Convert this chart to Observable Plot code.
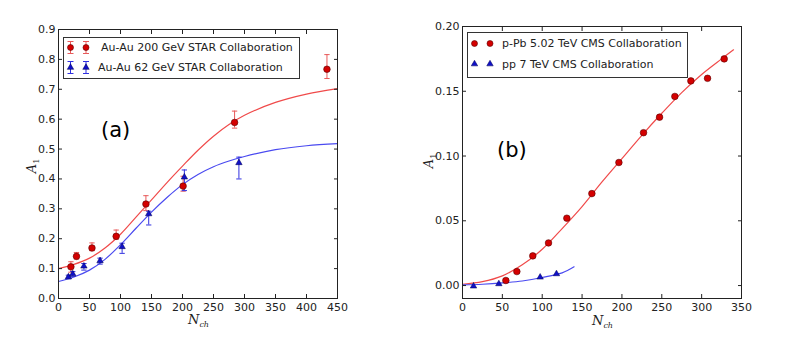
<!DOCTYPE html>
<html>
<head>
<meta charset="utf-8">
<script src="https://cdn.jsdelivr.net/npm/d3@7"></script>
<script src="https://cdn.jsdelivr.net/npm/@observablehq/plot@0.6"></script>
<style>
  html, body { margin: 0; padding: 0; background: #fff; }
  #wrap { position: relative; width: 789px; height: 346px; overflow: hidden; background: #fff; font-family: "DejaVu Sans", sans-serif; }
  .panel { position: absolute; top: 0; }
  .lbl { position: absolute; font-family: "DejaVu Serif", serif; font-style: italic; font-size: 13px; color: #222; white-space: nowrap; line-height: 13px; }
  .lbl sub { font-size: 8px; vertical-align: -3px; line-height: 8px; }
  .tag { position: absolute; font-family: "DejaVu Sans", sans-serif; font-size: 21px; color: #000; }
  .legend { position: absolute; }
</style>
</head>
<body>
<div id="wrap"></div>
<script>
// ---------- Panel (a): Au-Au STAR ----------
const xTicksA = [0, 50, 100, 150, 200, 250, 300, 350, 400, 450];
const yTicksA = [0.0, 0.1, 0.2, 0.3, 0.4, 0.5, 0.6, 0.7, 0.8, 0.9];

const nch200 = [20, 29, 54, 93, 141, 201, 284, 433];
const a1_200 = [0.106, 0.141, 0.169, 0.208, 0.316, 0.376, 0.589, 0.767];
const lo200  = [0.088, 0.132, 0.160, 0.198, 0.294, 0.359, 0.570, 0.736];
const hi200  = [0.123, 0.154, 0.186, 0.229, 0.344, 0.409, 0.627, 0.816];

const nch62 = [16, 23, 41, 67, 102.6, 145.5, 203, 291];
const a1_62 = [0.072, 0.082, 0.108, 0.126, 0.173, 0.283, 0.406, 0.454];
const lo62  = [0.066, 0.074, 0.095, 0.115, 0.151, 0.246, 0.361, 0.400];
const hi62  = [0.078, 0.090, 0.117, 0.135, 0.185, 0.292, 0.430, 0.473];

const fitXA    = [0, 25, 50, 75, 100, 125, 150, 175, 200, 225, 250, 275, 300, 350, 400, 450];
const fit200   = [0.100, 0.114, 0.135, 0.169, 0.215, 0.272, 0.330, 0.388, 0.443, 0.496, 0.543, 0.582, 0.613, 0.656, 0.684, 0.702];
const fit62    = [0.057, 0.072, 0.095, 0.131, 0.180, 0.235, 0.289, 0.338, 0.381, 0.415, 0.441, 0.460, 0.475, 0.498, 0.511, 0.518];

// ---------- Panel (b): CMS ----------
const xTicksB = [0, 50, 100, 150, 200, 250, 300, 350];
const yTicksB = [0.00, 0.05, 0.10, 0.15, 0.20];

const nchPPb = [54.4, 68.2, 88.2, 107.9, 130.9, 162.3, 196.2, 227.1, 247.2, 266.4, 286.5, 307.4, 328.3];
const a1PPb  = [0.0039, 0.0108, 0.0229, 0.0329, 0.052, 0.071, 0.095, 0.118, 0.130, 0.146, 0.158, 0.160, 0.175];

const nchPP = [13.8, 45.6, 97.4, 117.9];
const a1PP  = [-0.0005, 0.0013, 0.0064, 0.009];

const fitXPPb = [0, 25, 50, 75, 100, 125, 150, 175, 200, 225, 250, 275, 300, 325, 340];
const fitPPb  = [0.001, 0.003, 0.0075, 0.016, 0.028, 0.044, 0.061, 0.080, 0.098, 0.116, 0.133, 0.149, 0.163, 0.175, 0.182];
const fitXPP  = [0, 25, 50, 75, 100, 125, 140];
const fitPP   = [0.0005, 0.001, 0.002, 0.0035, 0.0062, 0.0098, 0.0145];

// ---------- colours ----------
const RED_DOT = "#d40000", RED_EDGE = "#5a0000", RED_LINE = "#f04a4a", RED_ERR = "#e85a5a";
const BLUE_DOT = "#1010c8", BLUE_LINE = "#4a4af0", BLUE_ERR = "#3030e0";

const capSymbol = { draw(ctx, size) { const r = Math.sqrt(size) / 2; ctx.moveTo(-r, 0); ctx.lineTo(r, 0); } };

const zip = (xs, ys, extra = {}) => xs.map((x, i) => {
  const o = { x, y: ys[i] };
  for (const k in extra) o[k] = extra[k][i];
  return o;
});

function axes(xTicks, yTicks, yFmt) {
  const common = { stroke: "#222", fontSize: 11, label: null };
  return [
    Plot.axisX(xTicks, { ...common, anchor: "bottom", tickSize: 0, tickPadding: 5, tickFormat: d => String(d), fill: "#222" }),
    Plot.axisX(xTicks, { ...common, anchor: "bottom", tickSize: -4, fill: "none" }),
    Plot.axisX(xTicks, { ...common, anchor: "top", tickSize: -4, fill: "none" }),
    Plot.axisY(yTicks, { ...common, anchor: "left", tickSize: 0, tickPadding: 3, tickFormat: yFmt, fill: "#222" }),
    Plot.axisY(yTicks, { ...common, anchor: "left", tickSize: -4, fill: "none" }),
    Plot.axisY(yTicks, { ...common, anchor: "right", tickSize: -4, fill: "none" }),
    Plot.frame({ stroke: "#222", strokeWidth: 1 })
  ];
}

const wrap = document.getElementById("wrap");

// Panel (a)
const d200 = zip(nch200, a1_200, { lo: lo200, hi: hi200 });
const d62  = zip(nch62, a1_62, { lo: lo62, hi: hi62 });
const plotA = Plot.plot({
  width: 395, height: 346,
  marginLeft: 58, marginRight: 58, marginTop: 29, marginBottom: 48,
  style: { fontFamily: "DejaVu Sans, sans-serif", background: "transparent", color: "#222" },
  x: { domain: [0, 450] },
  y: { domain: [0, 0.9] },
  marks: [
    Plot.line(zip(fitXA, fit200), { x: "x", y: "y", stroke: RED_LINE, strokeWidth: 1.2, curve: "catmull-rom" }),
    Plot.line(zip(fitXA, fit62), { x: "x", y: "y", stroke: BLUE_LINE, strokeWidth: 1.2, curve: "catmull-rom" }),
    Plot.ruleX(d200, { x: "x", y1: "lo", y2: "hi", stroke: RED_ERR, strokeWidth: 1 }),
    Plot.dot(d200, { x: "x", y: "lo", symbol: capSymbol, r: 3, stroke: RED_ERR, strokeWidth: 1 }),
    Plot.dot(d200, { x: "x", y: "hi", symbol: capSymbol, r: 3, stroke: RED_ERR, strokeWidth: 1 }),
    Plot.ruleX(d62, { x: "x", y1: "lo", y2: "hi", stroke: BLUE_ERR, strokeWidth: 1 }),
    Plot.dot(d62, { x: "x", y: "lo", symbol: capSymbol, r: 3, stroke: BLUE_ERR, strokeWidth: 1 }),
    Plot.dot(d62, { x: "x", y: "hi", symbol: capSymbol, r: 3, stroke: BLUE_ERR, strokeWidth: 1 }),
    Plot.dot(d200, { x: "x", y: "y", r: 3.3, fill: RED_DOT, stroke: RED_EDGE, strokeWidth: 0.6 }),
    Plot.dot(d62, { x: "x", y: "y", symbol: "triangle", r: 2.4, fill: BLUE_DOT, stroke: "#000050", strokeWidth: 0.5 }),
    ...axes(xTicksA, yTicksA, d3.format(".1f"))
  ]
});
plotA.classList.add("panel");
plotA.style.left = "0px";
wrap.appendChild(plotA);

// Panel (b)
const dPPb = zip(nchPPb, a1PPb);
const dPP  = zip(nchPP, a1PP);
const plotB = Plot.plot({
  width: 394, height: 346,
  marginLeft: 67, marginRight: 48, marginTop: 26, marginBottom: 48,
  style: { fontFamily: "DejaVu Sans, sans-serif", background: "transparent", color: "#222" },
  x: { domain: [0, 350] },
  y: { domain: [-0.01, 0.2] },
  marks: [
    Plot.line(zip(fitXPPb, fitPPb), { x: "x", y: "y", stroke: RED_LINE, strokeWidth: 1.2, curve: "catmull-rom" }),
    Plot.line(zip(fitXPP, fitPP), { x: "x", y: "y", stroke: BLUE_LINE, strokeWidth: 1.2, curve: "catmull-rom" }),
    Plot.dot(dPPb, { x: "x", y: "y", r: 3.3, fill: RED_DOT, stroke: RED_EDGE, strokeWidth: 0.6 }),
    Plot.dot(dPP, { x: "x", y: "y", symbol: "triangle", r: 2.4, fill: BLUE_DOT, stroke: "#000050", strokeWidth: 0.5 }),
    ...axes(xTicksB, yTicksB, d3.format(".2f"))
  ]
});
plotB.classList.add("panel");
plotB.style.left = "395px";
wrap.appendChild(plotB);

// ---------- HTML overlays: axis labels, panel tags, legends ----------
function addHTML(cls, html, css) {
  const el = document.createElement("div");
  el.className = cls;
  el.innerHTML = html;
  Object.assign(el.style, css);
  wrap.appendChild(el);
  return el;
}
addHTML("lbl", "N<sub>ch</sub>", { left: "188px", top: "313px" });
addHTML("lbl", "N<sub>ch</sub>", { left: "592px", top: "314px" });
addHTML("lbl", "A<sub style='font-style:normal'>1</sub>", { left: "26px", top: "158px", transform: "rotate(-90deg)" });
addHTML("lbl", "A<sub style='font-style:normal'>1</sub>", { left: "423px", top: "153px", transform: "rotate(-90deg)" });
addHTML("tag", "(a)", { left: "101px", top: "118px" });
addHTML("tag", "(b)", { left: "497px", top: "138px" });

function legend(left, top, w, h, items, withErr) {
  const svg = d3.create("svg").attr("width", w).attr("height", h)
    .style("position", "absolute").style("left", left + "px").style("top", top + "px");
  svg.append("rect").attr("x", 0.5).attr("y", 0.5).attr("width", w - 1).attr("height", h - 1)
    .attr("fill", "#fff").attr("stroke", "#333").attr("stroke-width", 1);
  items.forEach((it) => {
    const cy = it.cy;
    [7.5, 23].forEach(cx => {
      if (withErr) {
        svg.append("line").attr("x1", cx).attr("x2", cx).attr("y1", cy - 6).attr("y2", cy + 6).attr("stroke", it.err);
        svg.append("line").attr("x1", cx - 3).attr("x2", cx + 3).attr("y1", cy - 6).attr("y2", cy - 6).attr("stroke", it.err);
        svg.append("line").attr("x1", cx - 3).attr("x2", cx + 3).attr("y1", cy + 6).attr("y2", cy + 6).attr("stroke", it.err);
      }
      if (it.shape === "circle") {
        svg.append("circle").attr("cx", cx).attr("cy", cy).attr("r", 3).attr("fill", RED_DOT).attr("stroke", RED_EDGE).attr("stroke-width", 0.6);
      } else {
        svg.append("path").attr("d", d3.symbol(d3.symbolTriangle, 18)()).attr("transform", `translate(${cx},${cy})`)
          .attr("fill", BLUE_DOT).attr("stroke", "#000050").attr("stroke-width", 0.5);
      }
    });
    svg.append("text").attr("x", it.tx).attr("y", cy).attr("dy", "0.35em")
      .attr("font-family", "DejaVu Sans, sans-serif").attr("font-size", 11).attr("fill", "#222").text(it.label);
  });
  wrap.appendChild(svg.node());
}

const legendA = ["Au-Au 200 GeV STAR Collaboration", "Au-Au 62 GeV STAR Collaboration"];
const legendB = ["p-Pb 5.02 TeV CMS Collaboration", "pp 7 TeV CMS Collaboration"];

legend(63, 37, 237, 42, [
  { label: legendA[0], cy: 10.5, shape: "circle", err: RED_ERR, tx: 38 },
  { label: legendA[1], cy: 30.5, shape: "triangle", err: BLUE_ERR, tx: 35 }
], true);
legend(467, 32, 221, 46, [
  { label: legendB[0], cy: 11.5, shape: "circle", tx: 35 },
  { label: legendB[1], cy: 32, shape: "triangle", tx: 35 }
], false);
</script>
</body>
</html>
